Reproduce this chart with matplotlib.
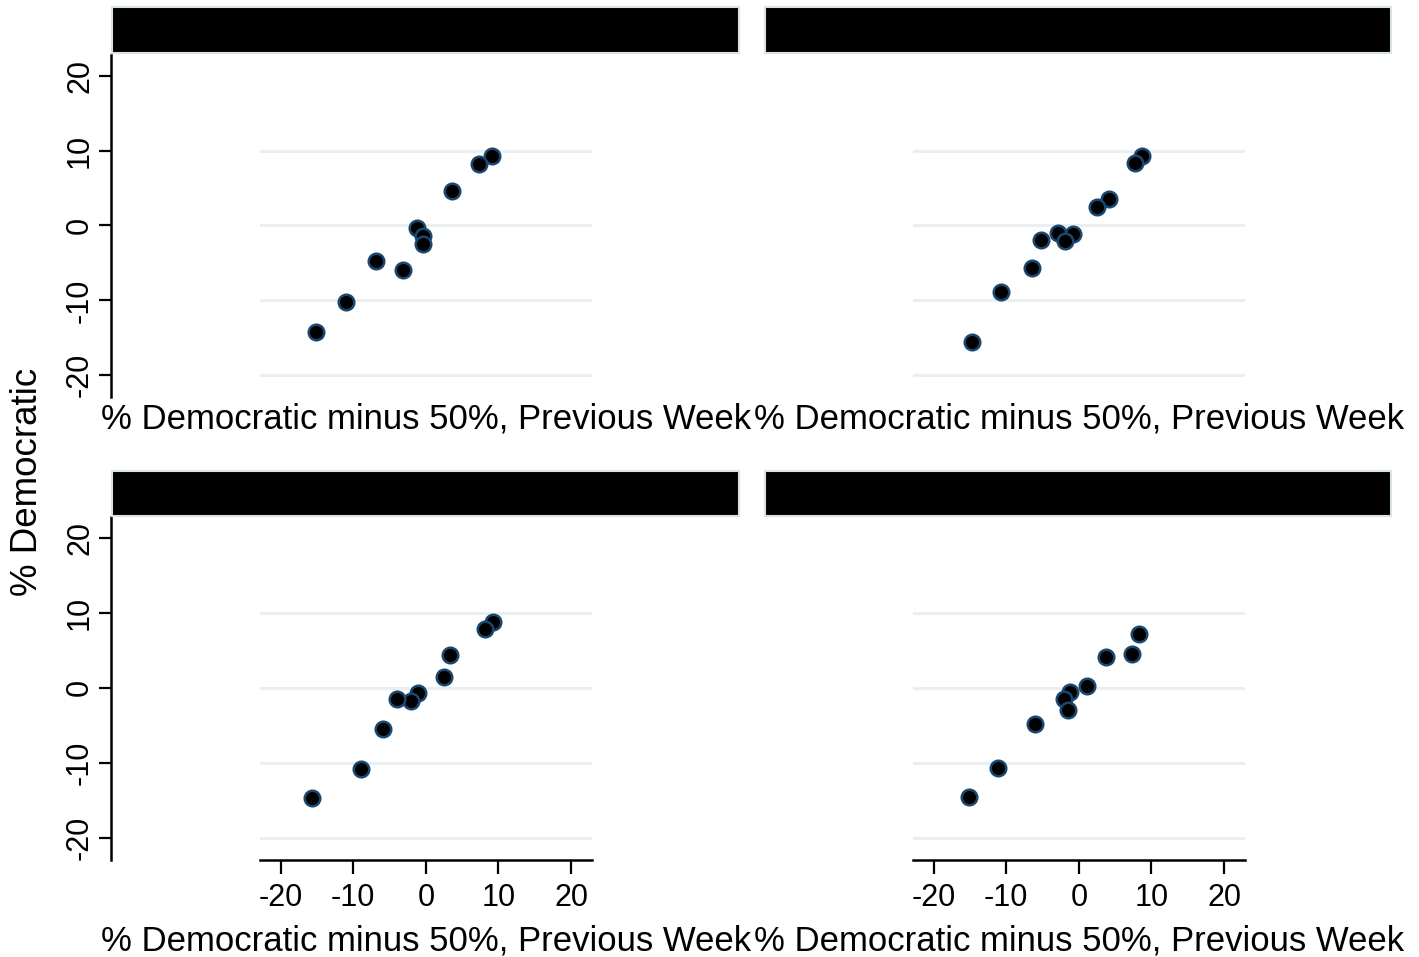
import matplotlib
matplotlib.use("Agg")
import matplotlib.pyplot as plt

plt.rcParams['font.family'] = ['Liberation Sans', 'DejaVu Sans']

W, H = 1419, 957

# Data: x = % Democratic minus 50%, previous week ; y = % Democratic (minus 50%)
tl_x = [9.1, 7.37, 3.6, -1.22, -0.40, -0.40, -6.83, -3.18, -10.99, -15.2]
tl_y = [9.27, 8.26, 4.58, -0.29, -1.4, -2.43, -4.69, -5.92, -10.2, -14.2]

tr_x = [8.75, 7.71, 4.09, 2.55, -2.89, -0.76, -1.93, -5.17, -6.43, -10.77, -14.7]
tr_y = [9.27, 8.34, 3.47, 2.5, -1.03, -1.16, -2.05, -2.0, -5.68, -8.86, -15.5]

bl_x = [9.28, 8.18, 3.31, 2.44, -1.05, -2.09, -4.0, -5.86, -9.0, -15.65]
bl_y = [8.74, 7.81, 4.32, 1.49, -0.64, -1.75, -1.52, -5.42, -10.73, -14.65]

br_x = [8.24, 7.3, 3.8, 1.05, -1.16, -2.09, -1.45, -6.06, -11.2, -15.1]
br_y = [7.15, 4.58, 4.09, 0.29, -0.6, -1.49, -2.95, -4.85, -10.6, -14.45]

ticks = [-20, -10, 0, 10, 20]
tick_labels = ['-20', '-10', '0', '10', '20']
grid_vals = [-20, -10, 0, 10]
xlabel = '% Democratic minus 50%, Previous Week'
ylabel = '% Democratic'

fig = plt.figure(figsize=(W / 100, H / 100), dpi=100)
fig.patch.set_facecolor('white')


def box(x0, y0, x1, y1):
    return [x0 / W, 1 - y1 / H, (x1 - x0) / W, (y1 - y0) / H]


panels = [
    (tl_x, tl_y, (260, 55, 592, 397), (112, 7, 739, 53), True, False),
    (tr_x, tr_y, (913, 55, 1245, 397), (765, 7, 1391, 53), False, False),
    (bl_x, bl_y, (260, 517, 592, 860), (112, 471, 739, 516), True, True),
    (br_x, br_y, (913, 517, 1245, 860), (765, 471, 1391, 516), False, True),
]

grid_color = '#e9f0f2'
edge_color = '#1a476f'
strip_edge = '#d8e3e8'

for xs, ys, pbox, sbox, show_y, show_x in panels:
    ax = fig.add_axes(box(*pbox))
    ax.set_facecolor('none')
    ax.set_xlim(-22.85, 22.88)
    ax.set_ylim(-22.9, 22.75)
    for v in grid_vals:
        ax.axhline(v, color=grid_color, lw=2.2, zorder=0)
    ax.scatter(xs, ys, s=125, facecolor='black', edgecolor=edge_color,
               linewidths=1.8, zorder=3)
    for sp in ['top', 'right']:
        ax.spines[sp].set_visible(False)
    # y axis
    if show_y:
        ax.spines['left'].set_position(('axes', (111 - pbox[0]) / (pbox[2] - pbox[0])))
        ax.spines['left'].set_linewidth(1.8)
        ax.set_yticks(ticks)
        ax.set_yticklabels(tick_labels)
        ax.tick_params(axis='y', length=9, width=1.6, labelsize=22,
                       labelrotation=90, pad=2.5)
        for lab in ax.get_yticklabels():
            lab.set_va('center')
    else:
        ax.spines['left'].set_visible(False)
        ax.set_yticks([])
    # x axis
    if show_x:
        ax.spines['bottom'].set_linewidth(1.8)
        ax.set_xticks(ticks)
        ax.set_xticklabels(tick_labels)
        ax.tick_params(axis='x', length=10, width=1.6, labelsize=22, pad=6.5)
        ax.set_xlabel(xlabel, fontsize=25)
        ax.xaxis.set_label_coords(0.5, (pbox[3] - 941) / (pbox[3] - pbox[1]))
    else:
        ax.spines['bottom'].set_visible(False)
        ax.set_xticks([])
        ax.set_xlabel(xlabel, fontsize=25)
        ax.xaxis.set_label_coords(0.5, (pbox[3] - 419) / (pbox[3] - pbox[1]))
    ax.xaxis.label.set_va('center')

    sax = fig.add_axes(box(*sbox))
    sax.set_facecolor('black')
    sax.set_xticks([])
    sax.set_yticks([])
    for sp in sax.spines.values():
        sp.set_color(strip_edge)
        sp.set_linewidth(1.5)

fig.text(28 / W, 1 - 482 / H, ylabel, rotation=90, fontsize=26.5,
         ha='center', va='center')

fig.savefig('out.png', dpi=100, facecolor='white')
